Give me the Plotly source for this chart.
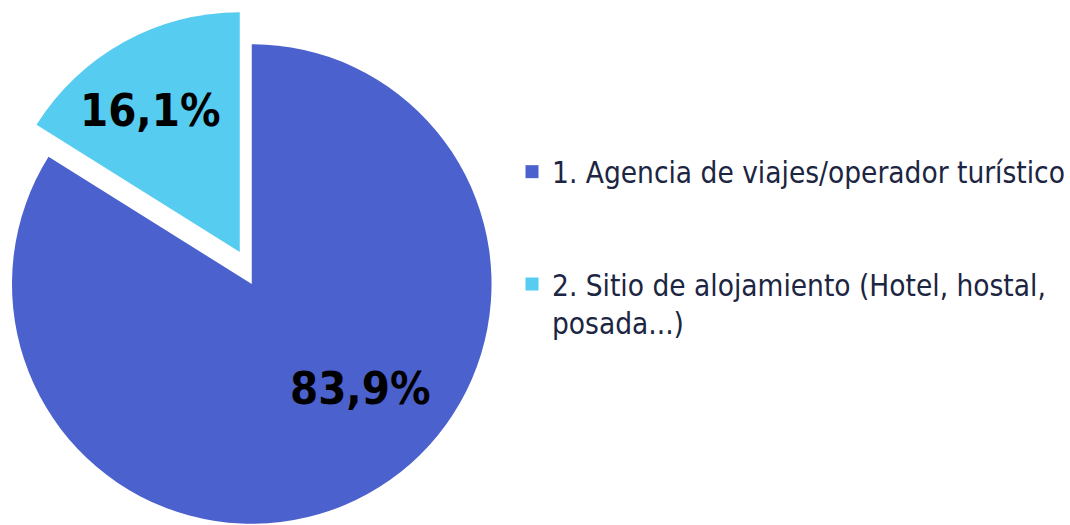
import plotly.graph_objects as go

labels = ['1. Agencia de viajes/operador turístico',
          '2. Sitio de alojamiento (Hotel, hostal,<br>posada...)']
values = [83.9, 16.1]
colors = ['#4b61cd', '#57ccf1']

W, H = 1070, 525
R = 240
FONT = 'DejaVu Sans Condensed, DejaVu Sans'


def dom(cx, cy):
    # pie domain (paper) for a circle of radius R centred at pixel (cx, cy)
    return dict(x=[max(0, (cx - R) / W), (cx + R) / W],
                y=[1 - (cy + R) / H, 1 - (cy - R) / H])


fig = go.Figure()

# main slice, and the detached small slice drawn as a separate, shifted pie
for i, (cx, cy) in enumerate([(252, 284), (240, 252)]):
    cols = ['rgba(0,0,0,0)'] * len(values)
    cols[i] = colors[i]
    fig.add_trace(go.Pie(
        labels=labels, values=values, sort=False, direction='clockwise',
        rotation=0, marker=dict(colors=cols, line=dict(width=0)),
        textinfo='none', domain=dom(cx, cy), showlegend=False,
        hoverinfo='label+percent'))

# percentage labels
label_pos = [(360, 388), (150, 110)]
for v, (px, py) in zip(values, label_pos):
    share = v / sum(values) * 100
    fig.add_annotation(x=px / W, y=1 - py / H, xref='paper', yref='paper',
                       xanchor='center', yanchor='middle',
                       text=f'{share:.1f}%'.replace('.', ','), showarrow=False,
                       font=dict(family=FONT, size=45, color='black',
                                 weight='bold'))

# legend entries
for i, lab in enumerate(labels):
    fig.add_trace(go.Scatter(
        x=[None], y=[None], mode='markers', name=lab, legendgroup=str(i),
        marker=dict(symbol='square', size=13, color=colors[i])))

fig.update_layout(
    width=W, height=H, margin=dict(l=0, r=0, t=0, b=0),
    paper_bgcolor='white', plot_bgcolor='white',
    xaxis=dict(visible=False), yaxis=dict(visible=False),
    legend=dict(x=0.479, y=1 - 146 / H, xanchor='left', yanchor='top',
                valign='top', tracegroupgap=71, itemwidth=30,
                font=dict(family=FONT, size=29.5, color='#1c2541')),
)

fig.write_html('out.html', config={'displayModeBar': False},
               post_script="document.body.style.margin='0';")
